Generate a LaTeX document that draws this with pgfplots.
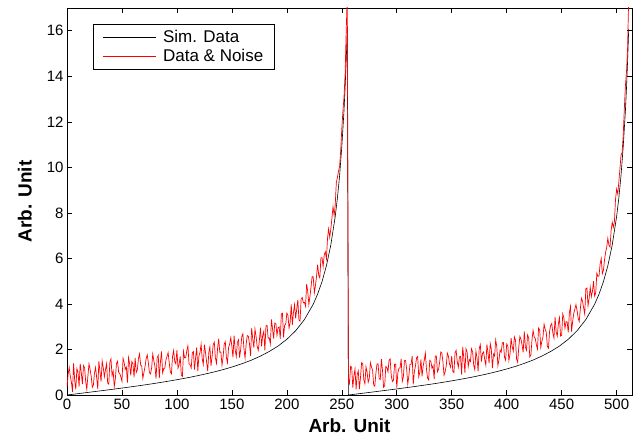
\documentclass[border=0pt]{standalone}
\usepackage{fontspec}
\setmainfont{Liberation Sans}
\usepackage{pgfplots}
\pgfplotsset{compat=1.18}
\pgfplotsset{legend image code/.code={\draw[#1] (0pt,0pt) -- (53pt,0pt);}}
\begin{document}
\begin{tikzpicture}
\begin{axis}[
  scale only axis, width=565pt, height=387pt,
  xmin=0, xmax=514, ymin=0, ymax=17,
  xtick={0,50,...,500}, ytick={0,2,...,16},
  tick align=inside, major tick length=5pt,
  tick style={black, line width=0.6pt},
  axis line style={line width=0.8pt},
  /pgf/number format/assume math mode=true,
  ticklabel style={font=\fontsize{15}{15}\selectfont},
  xlabel={Arb. Unit}, ylabel={Arb. Unit},
  xlabel shift=3pt, ylabel shift=8pt,
  label style={font=\fontsize{19}{19}\selectfont\bfseries},
  legend style={at={(0.046,0.9587)}, anchor=north west, line width=0.8pt,
    font=\fontsize{17}{17}\selectfont, inner xsep=9pt, inner ysep=4pt, row sep=1pt, column sep=5pt},
  legend cell align=left,
]
\addplot[draw=black, line width=0.6pt] coordinates {
(0,0) (8,0.047) (16,0.095) (24,0.143) (32,0.192) (40,0.241) (48,0.292) (56,0.344) (64,0.398) (72,0.453) (80,0.511) (88,0.573) (96,0.638) (104,0.707) (112,0.780) (120,0.860) (128,0.946) (136,1.039) (144,1.143) (152,1.258) (160,1.388) (168,1.536) (176,1.709) (184,1.912) (192,2.150) (200,2.447) (208,2.822) (216,3.315) (224,3.988) (228,4.432) (232,4.979) (236,5.676) (240,6.59) (244,7.84) (246,8.65) (248,9.64) (250,10.91) (252,12.49) (253,13.5) (254,14.68) (255,16.08)
(256,0) (264,0.047) (272,0.095) (280,0.143) (288,0.192) (296,0.241) (304,0.292) (312,0.344) (320,0.398) (328,0.453) (336,0.511) (344,0.573) (352,0.638) (360,0.707) (368,0.780) (376,0.860) (384,0.946) (392,1.039) (400,1.143) (408,1.258) (416,1.388) (424,1.536) (432,1.709) (440,1.912) (448,2.150) (456,2.447) (464,2.822) (472,3.315) (480,3.988) (484,4.432) (488,4.979) (492,5.676) (496,6.59) (500,7.84) (502,8.65) (504,9.64) (506,10.91) (508,12.49) (509,13.5) (510,14.68) (511,16.08)
};
\addlegendentry{Sim. Data}
\addplot[draw=red, line width=0.7pt] coordinates {
(0,0.35)(1,0.91)(2,1.21)(3,0.82)(4,0.57)(5,0.13)(6,1.39)(7,0.65)(8,0.25)(9,1.16)(10,1.01)(11,0.37)(12,1.37)(13,0.98)(14,0.48)(15,1.29)
(16,1.19)(17,0.60)(18,0.26)(19,0.82)(20,1.37)(21,1.13)(22,0.83)(23,0.34)(24,0.44)(25,0.95)(26,1.21)(27,0.77)(28,0.27)(29,1.48)(30,1.03)(31,0.59)
(32,1.49)(33,1.20)(34,0.80)(35,1.11)(36,1.37)(37,0.53)(38,0.48)(39,1.44)(40,1.59)(41,0.85)(42,1.05)(43,0.36)(44,0.72)(45,1.38)(46,1.48)(47,0.99)
(48,0.94)(49,0.80)(50,0.60)(51,1.61)(52,1.42)(53,1.13)(54,1.23)(55,0.54)(56,1.64)(57,1.35)(58,0.86)(59,1.47)(60,1.37)(61,0.78)(62,1.63)(63,0.99)
(64,1.10)(65,1.61)(66,1.81)(67,1.32)(68,1.27)(69,0.73)(70,0.99)(71,1.25)(72,1.60)(73,1.76)(74,1.42)(75,0.98)(76,0.93)(77,1.19)(78,1.80)(79,1.51)
(80,1.26)(81,0.72)(82,1.63)(83,1.74)(84,0.74)(85,1.45)(86,1.91)(87,0.97)(88,1.17)(89,1.18)(90,1.54)(91,1.70)(92,1.86)(93,1.42)(94,1.02)(95,0.93)
(96,1.69)(97,1.95)(98,1.46)(99,1.37)(100,1.97)(101,1.18)(102,1.34)(103,1.70)(104,0.86)(105,0.82)(106,1.92)(107,1.63)(108,1.64)(109,1.95)(110,2.16)(111,1.37)
(112,1.33)(113,1.19)(114,1.85)(115,1.91)(116,1.12)(117,1.63)(118,2.09)(119,1.05)(120,1.71)(121,1.87)(122,2.23)(123,1.59)(124,1.35)(125,2.21)(126,1.87)(127,1.44)
(128,1.05)(129,1.86)(130,2.12)(131,1.28)(132,1.69)(133,2.21)(134,2.32)(135,1.63)(136,1.39)(137,2.06)(138,2.47)(139,1.88)(140,1.89)(141,1.31)(142,1.67)(143,2.23)
(144,2.34)(145,1.66)(146,1.42)(147,2.09)(148,2.25)(149,2.52)(150,2.13)(151,1.65)(152,2.61)(153,1.98)(154,1.69)(155,2.31)(156,2.42)(157,1.64)(158,2.00)(159,2.57)
(160,2.69)(161,2.01)(162,1.62)(163,2.24)(164,2.61)(165,2.58)(166,2.25)(167,1.72)(168,2.94)(169,2.46)(170,2.08)(171,2.90)(172,2.57)(173,2.14)(174,1.96)(175,2.39)
(176,2.96)(177,2.14)(178,2.61)(179,2.79)(180,1.96)(181,3.04)(182,3.06)(183,2.49)(184,2.51)(185,2.24)(186,3.32)(187,2.90)(188,2.48)(189,3.16)(190,3.14)(191,2.62)
(192,2.95)(193,2.99)(194,2.47)(195,3.56)(196,3.59)(197,2.53)(198,3.07)(199,3.11)(200,3.60)(201,3.50)(202,2.94)(203,3.19)(204,3.98)(205,3.08)(206,3.62)(207,3.97)
(208,3.37)(209,3.78)(210,4.18)(211,3.29)(212,3.25)(213,4.22)(214,4.28)(215,4.05)(216,4.07)(217,3.90)(218,4.87)(219,4.55)(220,3.98)(221,4.32)(222,4.75)(223,5.20)
(224,5.19)(225,4.49)(226,4.80)(227,5.21)(228,5.73)(229,5.26)(230,5.14)(231,6.03)(232,6.03)(233,5.64)(234,6.16)(235,6.29)(236,5.98)(237,6.88)(238,7.30)(239,6.93)
(240,7.29)(241,7.77)(242,8.27)(243,7.89)(244,8.34)(245,9.33)(246,9.55)(247,9.83)(248,10.04)(249,10.75)(250,11.71)(251,12.46)(252,13.09)(253,14.10)(254,15.98)(255,17.6)
(256,0.70)(257,0.51)(258,1.26)(259,1.22)(260,0.32)(261,0.83)(262,1.14)(263,0.25)(264,0.90)(265,1.06)(266,0.26)(267,0.77)(268,1.42)(269,1.38)(270,0.68)(271,0.49)
(272,1.24)(273,1.00)(274,0.56)(275,0.72)(276,1.42)(277,1.23)(278,1.08)(279,0.44)(280,0.39)(281,0.95)(282,1.36)(283,1.37)(284,0.72)(285,0.68)(286,1.58)(287,1.09)
(288,0.34)(289,0.40)(290,1.25)(291,1.21)(292,1.02)(293,1.53)(294,1.58)(295,0.84)(296,0.59)(297,0.65)(298,1.35)(299,1.36)(300,0.32)(301,0.98)(302,1.18)(303,1.19)
(304,1.59)(305,0.60)(306,0.80)(307,1.51)(308,1.52)(309,1.13)(310,0.48)(311,0.84)(312,1.34)(313,1.35)(314,1.71)(315,0.47)(316,1.02)(317,1.28)(318,1.63)(319,1.69)
(320,0.80)(321,1.01)(322,1.56)(323,0.82)(324,1.27)(325,1.53)(326,1.84)(327,1.15)(328,0.75)(329,0.66)(330,1.52)(331,1.48)(332,1.18)(333,1.29)(334,0.70)(335,1.71)
(336,1.71)(337,1.02)(338,1.13)(339,1.44)(340,1.89)(341,1.85)(342,1.46)(343,0.87)(344,1.02)(345,1.28)(346,1.84)(347,1.70)(348,1.36)(349,1.22)(350,1.72)(351,1.03)
(352,0.99)(353,1.85)(354,1.96)(355,1.47)(356,1.22)(357,1.68)(358,1.69)(359,0.90)(360,2.11)(361,1.62)(362,0.97)(363,2.03)(364,1.89)(365,1.25)(366,1.56)(367,1.47)
(368,2.03)(369,1.89)(370,1.30)(371,1.11)(372,1.92)(373,1.63)(374,1.04)(375,2.05)(376,2.21)(377,1.47)(378,1.83)(379,1.89)(380,1.55)(381,1.31)(382,2.22)(383,1.84)
(384,1.40)(385,2.26)(386,2.02)(387,1.18)(388,1.79)(389,1.71)(390,2.42)(391,2.13)(392,1.29)(393,1.56)(394,1.97)(395,1.88)(396,2.29)(397,2.31)(398,1.67)(399,1.53)
(400,2.24)(401,2.16)(402,1.52)(403,1.79)(404,2.50)(405,2.12)(406,1.93)(407,2.55)(408,2.41)(409,1.58)(410,1.44)(411,2.11)(412,2.57)(413,2.44)(414,2.20)(415,1.87)
(416,2.79)(417,2.11)(418,1.97)(419,2.64)(420,2.51)(421,1.68)(422,1.75)(423,2.42)(424,2.84)(425,2.56)(426,2.48)(427,2.20)(428,2.02)(429,2.94)(430,2.86)(431,2.09)
(432,2.36)(433,2.54)(434,3.11)(435,2.89)(436,2.76)(437,2.14)(438,2.06)(439,2.79)(440,3.06)(441,3.14)(442,2.72)(443,2.50)(444,3.43)(445,2.76)(446,2.59)(447,3.12)
(448,3.40)(449,2.59)(450,2.62)(451,3.56)(452,3.39)(453,2.93)(454,3.22)(455,3.21)(456,2.75)(457,3.60)(458,3.89)(459,2.79)(460,3.23)(461,3.58)(462,3.77)(463,3.97)
(464,3.72)(465,3.38)(466,3.23)(467,3.79)(468,4.25)(469,4.12)(470,3.83)(471,3.55)(472,4.67)(473,4.70)(474,3.92)(475,4.25)(476,4.73)(477,4.32)(478,4.55)(479,5.00)
(480,4.34)(481,4.49)(482,5.35)(483,5.21)(484,5.23)(485,5.76)(486,5.99)(487,5.33)(488,5.48)(489,5.94)(490,6.26)(491,6.49)(492,6.88)(493,6.58)(494,6.50)(495,7.23)
(496,7.59)(497,7.37)(498,7.62)(499,8.59)(500,9.04)(501,8.83)(502,9.35)(503,9.93)(504,10.54)(505,10.65)(506,11.41)(507,12.56)(508,13.59)(509,14.20)(510,15.28)(511,17.5)
};
\addlegendentry{Data \& Noise}
\end{axis}
\path (-67pt,-48pt) rectangle (577pt,395pt);
\end{tikzpicture}
\end{document}
